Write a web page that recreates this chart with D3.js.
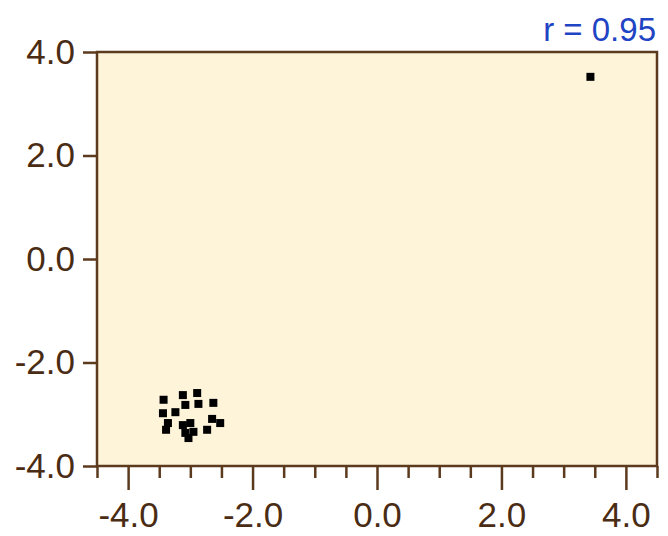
<!DOCTYPE html>
<html>
<head>
<meta charset="utf-8">
<script src="https://cdn.jsdelivr.net/npm/d3@7"></script>
<style>
  html, body { margin: 0; padding: 0; background: #ffffff; }
  svg { display: block; }
</style>
</head>
<body>
<div id="chart"></div>
<script>
// data
var xValues = [-3.43, -3.12, -3.08, -2.89, -2.87, -2.63, -3.44, -3.24, -3.36, -3.39,
               -3.12, -3.00, -2.95, -3.08, -2.65, -2.52, -2.73, -3.03, 3.43];
var yValues = [-2.72, -2.63, -2.82, -2.59, -2.80, -2.78, -2.98, -2.96, -3.17, -3.30,
               -3.21, -3.17, -3.34, -3.36, -3.09, -3.17, -3.30, -3.46, 3.52];
var xMajorTicks = [-4, -2, 0, 2, 4];
var xMinorTicks = [-4.5, -3.5, -3, -2.5, -1.5, -1, -0.5, 0.5, 1, 1.5, 2.5, 3, 3.5, 4.5];
var yTicks = [-4, -2, 0, 2, 4];
var title = 'r = 0.95';

var W = 668, H = 536;
var FONT = '"Liberation Sans", Arial, sans-serif';
var INK = '#4a2c14';
var AXIS = '#5c3a1e';

// plain hyphen instead of d3's unicode minus
var fmt = function(d) { return d3.format('.1f')(d).replace('\u2212', '-'); };

var svg = d3.select('#chart').append('svg')
  .attr('width', W)
  .attr('height', H);

var x = d3.scaleLinear().domain([-4.5, 4.5]).range([97, 657]);
var y = d3.scaleLinear().domain([-4, 4]).range([466, 52]);

// plot background
svg.append('rect')
  .attr('x', x(-4.5))
  .attr('y', y(4))
  .attr('width', x(4.5) - x(-4.5))
  .attr('height', y(-4) - y(4))
  .attr('fill', '#fdf4d9');

// ── axes ─────────────────────────────────────────────
function styleAxis(g) {
  g.select('.domain').remove();
  g.selectAll('.tick line').attr('stroke', AXIS).attr('stroke-width', 2.5);
  g.selectAll('.tick text')
    .attr('fill', INK)
    .attr('font-family', FONT)
    .attr('font-size', '35px');
}

svg.append('g')
  .attr('transform', 'translate(0,' + y(-4) + ')')
  .call(d3.axisBottom(x).tickValues(xMinorTicks).tickSize(12).tickFormat(''))
  .call(styleAxis);

svg.append('g')
  .attr('transform', 'translate(0,' + y(-4) + ')')
  .call(d3.axisBottom(x).tickValues(xMajorTicks).tickSize(24).tickPadding(12)
    .tickFormat(fmt))
  .call(styleAxis);

svg.append('g')
  .attr('transform', 'translate(' + x(-4.5) + ',0)')
  .call(d3.axisLeft(y).tickValues(yTicks).tickSize(14).tickPadding(8)
    .tickFormat(fmt))
  .call(styleAxis);

// frame
svg.append('rect')
  .attr('x', x(-4.5))
  .attr('y', y(4))
  .attr('width', x(4.5) - x(-4.5))
  .attr('height', y(-4) - y(4))
  .attr('fill', 'none')
  .attr('stroke', AXIS)
  .attr('stroke-width', 2.5);

// ── points ───────────────────────────────────────────
var S = 8;
svg.append('g').selectAll('rect')
  .data(xValues.map(function(v, i) { return { x: v, y: yValues[i] }; }))
  .enter()
  .append('rect')
  .attr('x', function(d) { return x(d.x) - S / 2; })
  .attr('y', function(d) { return y(d.y) - S / 2; })
  .attr('width', S)
  .attr('height', S)
  .attr('fill', '#000000');

// title
svg.append('text')
  .attr('x', 656)
  .attr('y', 41)
  .attr('text-anchor', 'end')
  .attr('fill', '#1f44c4')
  .attr('font-family', FONT)
  .attr('font-size', '33px')
  .text(title);
</script>
</body>
</html>
